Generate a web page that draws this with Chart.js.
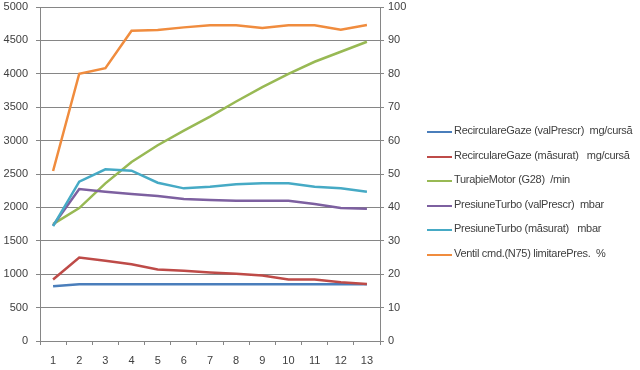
<!DOCTYPE html>
<html>
<head>
<meta charset="utf-8">
<script src="https://cdn.jsdelivr.net/npm/chart.js@4/dist/chart.umd.min.js"></script>
<style>
  html, body { margin: 0; padding: 0; background: #fff; }
  #wrap { position: relative; width: 640px; height: 370px; }
  #legend { position: absolute; left: 427px; top: 124px; font: 11px "Liberation Sans", Arial, sans-serif; letter-spacing: -0.3px; color: #404040; }
  #legend .item { height: 24.5px; display: flex; align-items: flex-start; white-space: pre; }
  #legend .swatch { width: 25px; height: 2px; margin-top: 7px; margin-right: 2px; }
</style>
</head>
<body>
<div id="wrap">
  <canvas id="lineChart" width="640" height="370"></canvas>
  <div id="legend"></div>
</div>
<script>
// data
var labels = ['1', '2', '3', '4', '5', '6', '7', '8', '9', '10', '11', '12', '13'];
var egrSpec = [820, 850, 850, 850, 850, 850, 850, 850, 850, 850, 850, 850, 850];
var egrMeas = [920, 1250, 1200, 1150, 1070, 1050, 1025, 1005, 980, 920, 920, 880, 855];
var rpm = [1750, 1990, 2360, 2680, 2930, 3150, 3360, 3585, 3800, 4000, 4180, 4330, 4480];
var boostSpec = [1730, 2275, 2235, 2200, 2170, 2125, 2110, 2100, 2100, 2100, 2050, 1990, 1980];
var boostMeas = [1720, 2385, 2570, 2550, 2370, 2285, 2310, 2345, 2360, 2360, 2310, 2285, 2235];
var valve = [50.9, 80, 81.7, 92.9, 93.1, 93.9, 94.5, 94.5, 93.7, 94.5, 94.5, 93.2, 94.6];

var seriesNames = [
    'RecirculareGaze (valPrescr)  mg/cursă',
    'RecirculareGaze (măsurat)   mg/cursă',
    'TuraþieMotor (G28)  /min',
    'PresiuneTurbo (valPrescr)  mbar',
    'PresiuneTurbo (măsurat)   mbar',
    'Ventil cmd.(N75) limitarePres.  %'
];
var seriesColors = ['#4a7ebb', '#be4b48', '#98b954', '#7d60a0', '#46aac5', '#f08c3e'];
var seriesData = [egrSpec, egrMeas, rpm, boostSpec, boostMeas, valve];

var datasets = seriesData.map(function (d, i) {
    return {
        label: seriesNames[i],
        data: d,
        borderColor: seriesColors[i],
        backgroundColor: seriesColors[i],
        borderWidth: 2.5,
        pointRadius: 0,
        tension: 0,
        fill: false,
        yAxisID: i === 5 ? 'y2' : 'y',
        order: 6 - i
    };
});

Chart.defaults.font.family = '"Liberation Sans", Arial, sans-serif';
Chart.defaults.font.size = 11;
Chart.defaults.color = '#404040';

var plain = function (v) { return String(v); };

// fixed axis sizes so the plot sits where the original one does
function fitY(w) {
    return function (scale) {
        scale.width = w;
        scale.paddingTop = 7;
        scale.paddingBottom = 7;
    };
}

var ctxL = document.getElementById('lineChart').getContext('2d');
var lineChart = new Chart(ctxL, {
    type: 'line',
    data: { labels: labels, datasets: datasets },
    options: {
        responsive: false,
        animation: false,
        layout: { padding: { top: 0, right: 230, left: 0, bottom: 0 } },
        plugins: {
            tooltip: { enabled: false },
            legend: { display: false }
        },
        scales: {
            x: {
                offset: true,
                grid: { display: true, drawOnChartArea: false, drawTicks: true, tickLength: 4, color: '#868686', offset: true },
                border: { display: true, color: '#868686' },
                ticks: { padding: 9 },
                afterFit: function (scale) { scale.height = 29; }
            },
            y: {
                position: 'left',
                min: 0, max: 5000,
                ticks: { stepSize: 500, padding: 8, callback: plain },
                grid: { color: '#868686', tickLength: 4 },
                border: { display: true, color: '#868686' },
                afterFit: fitY(40)
            },
            y2: {
                position: 'right',
                min: 0, max: 100,
                ticks: { stepSize: 10, padding: 4, callback: plain },
                grid: { drawOnChartArea: false, color: '#868686', tickLength: 4 },
                border: { display: true, color: '#868686' },
                afterFit: fitY(30)
            }
        }
    }
});

// legend as real text next to the plot
var legendEl = document.getElementById('legend');
lineChart.data.datasets.forEach(function (ds) {
    var row = document.createElement('div');
    row.className = 'item';
    var sw = document.createElement('span');
    sw.className = 'swatch';
    sw.style.background = ds.borderColor;
    var tx = document.createElement('span');
    tx.textContent = ds.label;
    row.appendChild(sw);
    row.appendChild(tx);
    legendEl.appendChild(row);
});
</script>
</body>
</html>
